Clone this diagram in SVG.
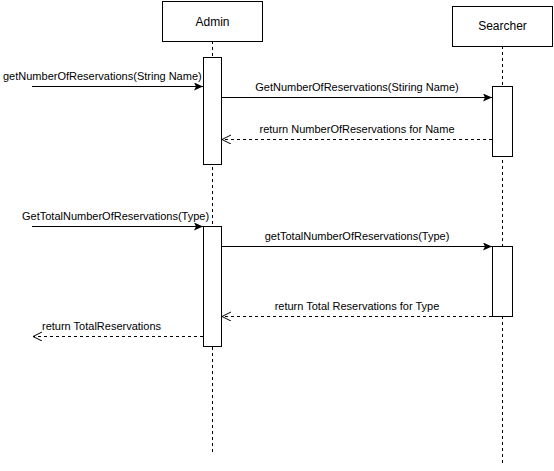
<svg xmlns="http://www.w3.org/2000/svg" width="554" height="471" viewBox="0 0 554 471">
  <style>
    .box { fill: #ffffff; stroke: #000000; stroke-width: 1; }
    .life { stroke: #000000; stroke-width: 1; stroke-dasharray: 3 3; fill: none; }
    .msg { stroke: #000000; stroke-width: 1; fill: none; }
    .ret { stroke: #000000; stroke-width: 1; stroke-dasharray: 3 3; fill: none; }
    text { font-family: "Liberation Sans", Arial, sans-serif; font-size: 11px; fill: #000000; }
    .title { font-size: 12px; }
  </style>
  <defs>
    <marker id="solid" markerWidth="10" markerHeight="10" refX="9" refY="4" orient="auto" markerUnits="userSpaceOnUse">
      <path d="M0,0 L9,4 L0,8 L2,4 Z" fill="#000000"/>
    </marker>
    <marker id="open" markerWidth="10" markerHeight="10" refX="9" refY="4.5" orient="auto" markerUnits="userSpaceOnUse">
      <path d="M0,0 L9,4.5 L0,9" fill="none" stroke="#000000" stroke-width="1"/>
    </marker>
  </defs>

  <!-- lifelines -->
  <g id="admin">
    <line class="life" x1="212.5" y1="41" x2="212.5" y2="452"/>
    <rect class="box" x="162.5" y="1.5" width="100" height="40"/>
    <text class="title" x="212.5" y="25.5" text-anchor="middle">Admin</text>
    <rect class="box" x="203.5" y="57.5" width="18" height="107"/>
    <rect class="box" x="203.5" y="226.5" width="18" height="120"/>
  </g>
  <g id="searcher">
    <line class="life" x1="502.5" y1="46" x2="502.5" y2="466"/>
    <rect class="box" x="452.5" y="6.5" width="100" height="40"/>
    <text class="title" x="502.5" y="30" text-anchor="middle">Searcher</text>
    <rect class="box" x="492.5" y="86.5" width="20" height="70"/>
    <rect class="box" x="492.5" y="246.5" width="20" height="70"/>
  </g>

  <!-- messages -->
  <g id="connectors">
    <line class="msg" x1="32" y1="86.5" x2="203" y2="86.5" marker-end="url(#solid)"/>
    <text x="3" y="80">getNumberOfReservations(String Name)</text>

    <line class="msg" x1="222" y1="97.5" x2="492" y2="97.5" marker-end="url(#solid)"/>
    <text x="357" y="91" text-anchor="middle">GetNumberOfReservations(Stiring Name)</text>

    <line class="ret" x1="492" y1="139.5" x2="222" y2="139.5" marker-end="url(#open)"/>
    <text x="357" y="133" text-anchor="middle">return NumberOfReservations for Name</text>

    <line class="msg" x1="32" y1="226.5" x2="203" y2="226.5" marker-end="url(#solid)"/>
    <text x="22" y="220">GetTotalNumberOfReservations(Type)</text>

    <line class="msg" x1="222" y1="246.5" x2="492" y2="246.5" marker-end="url(#solid)"/>
    <text x="357" y="240" text-anchor="middle">getTotalNumberOfReservations(Type)</text>

    <line class="ret" x1="492" y1="316.5" x2="222" y2="316.5" marker-end="url(#open)"/>
    <text x="357" y="310" text-anchor="middle">return Total Reservations for Type</text>

    <line class="ret" x1="203" y1="336.5" x2="33" y2="336.5" marker-end="url(#open)"/>
    <text x="42" y="330">return TotalReservations</text>
  </g>
</svg>
